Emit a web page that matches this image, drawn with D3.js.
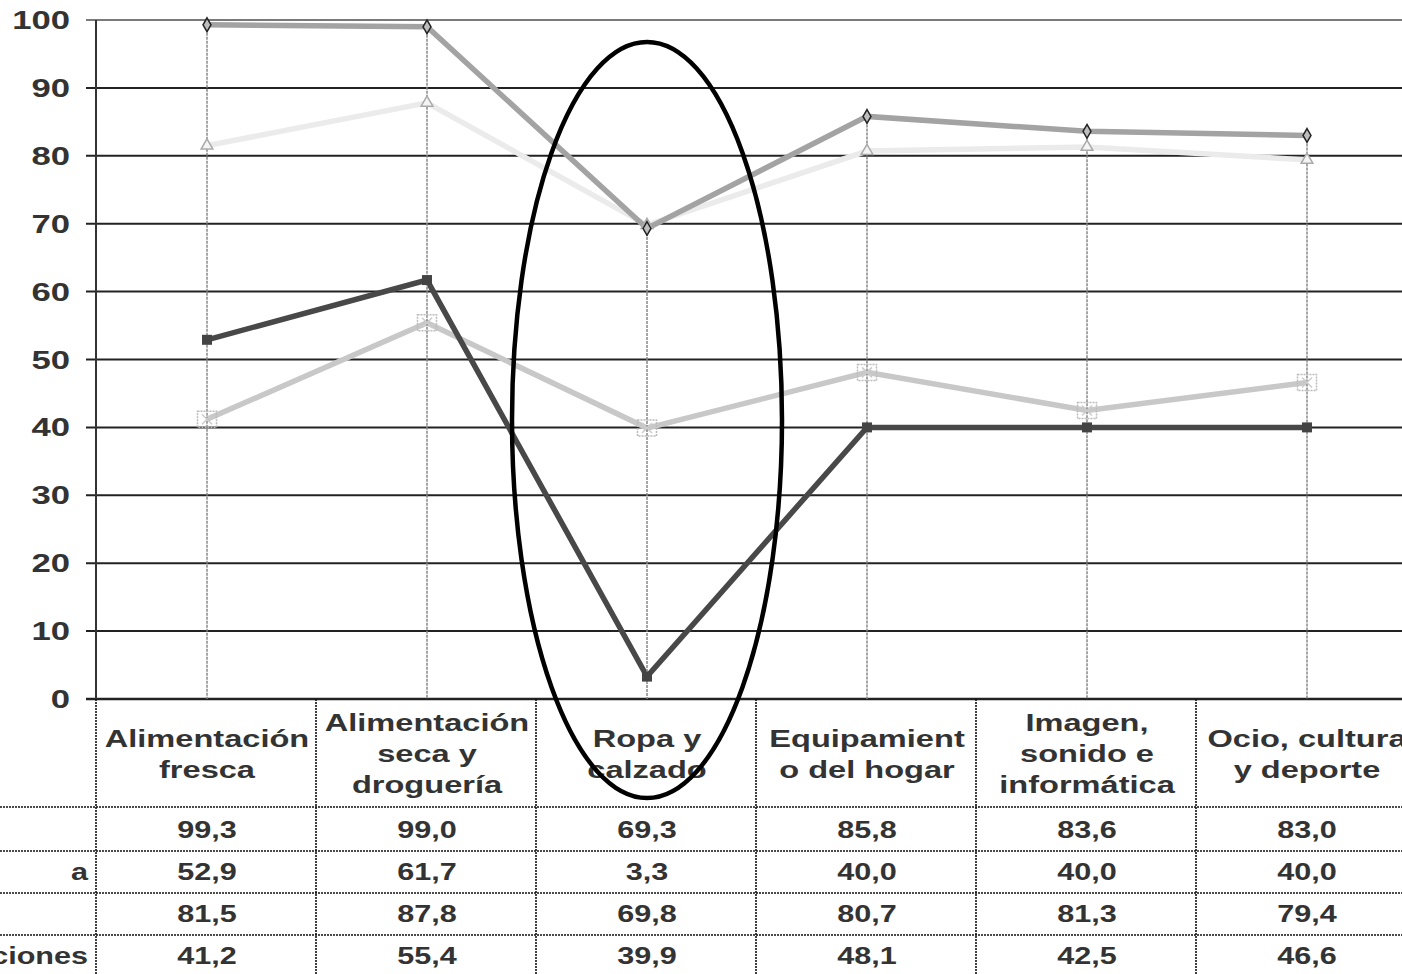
<!DOCTYPE html>
<html>
<head>
<meta charset="utf-8">
<script src="https://cdn.jsdelivr.net/npm/d3@7"></script>
<style>
  html, body { margin: 0; padding: 0; background: #fff; overflow: hidden; }
  svg { display: block; }
  text { font-family: "Liberation Sans", Arial, sans-serif; font-weight: bold; fill: #333; }
</style>
</head>
<body>
<svg id="chart" width="1402" height="974"></svg>
<script>
// ---------- data ----------
const categories = ["Alimentación fresca", "Alimentación seca y droguería", "Ropa y calzado",
  "Equipamiento del hogar", "Imagen, sonido e informática", "Ocio, cultura y deporte"];
const headerLines = [
  ["Alimentación", "fresca"],
  ["Alimentación", "seca y", "droguería"],
  ["Ropa y", "calzado"],
  ["Equipamient", "o del hogar"],
  ["Imagen,", "sonido e", "informática"],
  ["Ocio, cultura", "y deporte"]
];
const seriesA = [99.3, 99.0, 69.3, 85.8, 83.6, 83.0];
const seriesB = [52.9, 61.7, 3.3, 40.0, 40.0, 40.0];
const seriesC = [81.5, 87.8, 69.8, 80.7, 81.3, 79.4];
const seriesD = [41.2, 55.4, 39.9, 48.1, 42.5, 46.6];
const rowLabels = ["", "a", "", "ciones"];
const yTicks = [0, 10, 20, 30, 40, 50, 60, 70, 80, 90, 100];

// ---------- setup ----------
const W = 1402, H = 974;
const SX = 1.33; // horizontal stretch of the original text
const svg = d3.select("#chart");
svg.append("rect").attr("width", W).attr("height", H).attr("fill", "#fff");

const x = d3.scaleBand().domain(categories).range([97, 1417]).paddingInner(0).paddingOuter(0);
const cx = c => x(c) + x.bandwidth() / 2;
const y = d3.scaleLinear().domain([0, 100]).range([699, 20]);

function stext(g, px, py, str, size, anchor, sx) {
  return g.append("text")
    .attr("transform", `translate(${px},${py}) scale(${sx || SX},1)`)
    .attr("text-anchor", anchor)
    .style("font-size", size + "px")
    .text(str);
}

// ---------- gridlines ----------
const grid = svg.append("g");
yTicks.forEach(t => {
  grid.append("line")
    .attr("x1", 86).attr("x2", W)
    .attr("y1", y(t)).attr("y2", y(t))
    .attr("stroke", t === 100 ? "#7a7a7a" : "#222")
    .attr("stroke-width", t === 0 ? 2.5 : 2);
});
// y axis line
svg.append("line").attr("x1", 96).attr("x2", 96).attr("y1", y(100)).attr("y2", y(0))
  .attr("stroke", "#333").attr("stroke-width", 2);

// y tick labels
const yl = svg.append("g");
yTicks.forEach(t => stext(yl, 70, y(t) + 9, String(t), 25.5, "end", 1.36));

// ---------- series lines ----------
const series = [
  { vals: seriesD, color: "#c8c8c8", key: "D" },
  { vals: seriesC, color: "#ebebeb", key: "C" },
  { vals: seriesA, color: "#a3a3a3", key: "A" },
  { vals: seriesB, color: "#484848", key: "B" }
];
const line = d3.line().x((d, i) => cx(categories[i])).y(d => y(d));
series.forEach(s => {
  svg.append("path").datum(s.vals).attr("d", line)
    .attr("fill", "none").attr("stroke", s.color).attr("stroke-width", 5.5)
    .attr("stroke-linejoin", "miter");
});

// ---------- drop lines ----------
categories.forEach((c, i) => {
  const top = Math.max(seriesA[i], seriesB[i], seriesC[i], seriesD[i]);
  svg.append("line")
    .attr("x1", cx(c)).attr("x2", cx(c))
    .attr("y1", y(top)).attr("y2", y(0))
    .attr("stroke", "#888").attr("stroke-width", 1.5)
    .attr("stroke-dasharray", "3,1");
});

// ---------- markers ----------
const mk = svg.append("g");
// series D: dashed square with x
seriesD.forEach((v, i) => {
  const px = cx(categories[i]), py = y(v);
  mk.append("rect").attr("x", px - 9.5).attr("y", py - 8).attr("width", 19).attr("height", 16)
    .attr("fill", "none").attr("stroke", "#bbb").attr("stroke-width", 1.5).attr("stroke-dasharray", "2,1");
  mk.append("path").attr("d", `M${px - 5},${py - 5}L${px + 5},${py + 5}M${px - 5},${py + 5}L${px + 5},${py - 5}`)
    .attr("stroke", "#ccc").attr("stroke-width", 1.5);
});
// series C: triangles
seriesC.forEach((v, i) => {
  mk.append("path").attr("d", d3.symbol(d3.symbolTriangle, 60)())
    .attr("transform", `translate(${cx(categories[i])},${y(v)})`)
    .attr("fill", "#f4f4f4").attr("stroke", "#aaa").attr("stroke-width", 1.5);
});
// series A: diamonds
seriesA.forEach((v, i) => {
  mk.append("path").attr("d", d3.symbol(d3.symbolDiamond, 55)())
    .attr("transform", `translate(${cx(categories[i])},${y(v)})`)
    .attr("fill", "#bdbdbd").attr("stroke", "#222").attr("stroke-width", 1.5);
});
// series B: filled squares
seriesB.forEach((v, i) => {
  mk.append("rect").attr("x", cx(categories[i]) - 5).attr("y", y(v) - 5)
    .attr("width", 10).attr("height", 10).attr("fill", "#444");
});

// ---------- data table ----------
const tbl = svg.append("g");
const rowLines = [807, 851, 893, 935];
const rowCenters = [830, 872, 914, 956];
const dotted = { stroke: "#111", w: 1.6, dash: "2,1" };
rowLines.forEach(ry => {
  tbl.append("line").attr("x1", 0).attr("x2", W).attr("y1", ry).attr("y2", ry)
    .attr("stroke", dotted.stroke).attr("stroke-width", dotted.w).attr("stroke-dasharray", dotted.dash);
});
categories.forEach(c => {
  tbl.append("line").attr("x1", x(c) - 1).attr("x2", x(c) - 1).attr("y1", y(0)).attr("y2", H)
    .attr("stroke", dotted.stroke).attr("stroke-width", dotted.w).attr("stroke-dasharray", dotted.dash);
});

// header labels
categories.forEach((c, i) => {
  const lines = headerLines[i];
  const n = lines.length;
  lines.forEach((ln, j) => {
    stext(tbl, cx(c), 762 + (j - (n - 1) / 2) * 31, ln, 24.5, "middle");
  });
});

// values
const fmt = v => d3.format(".1f")(v).replace(".", ",");
[seriesA, seriesB, seriesC, seriesD].forEach((vals, r) => {
  vals.forEach((v, i) => stext(tbl, cx(categories[i]), rowCenters[r] + 8, fmt(v), 23, "middle"));
  if (rowLabels[r]) stext(tbl, 88, rowCenters[r] + 8, rowLabels[r], 23, "end");
});

// ---------- annotation ellipse ----------
svg.append("ellipse")
  .attr("cx", cx(categories[2])).attr("cy", 420)
  .attr("rx", 135).attr("ry", 378)
  .attr("fill", "none").attr("stroke", "#000").attr("stroke-width", 4.5);
</script>
</body>
</html>
